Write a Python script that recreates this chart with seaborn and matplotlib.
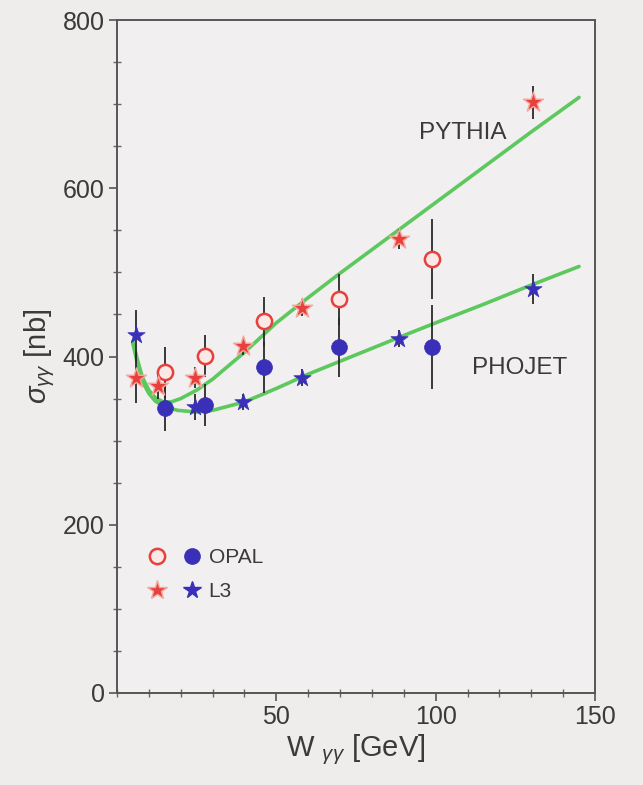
import matplotlib
matplotlib.use('Agg')
import matplotlib.pyplot as plt
import seaborn as sns
import pandas as pd
from matplotlib.lines import Line2D
from matplotlib.legend_handler import HandlerTuple
from matplotlib.ticker import MultipleLocator

# ---- data ----
opal_x = [15.1, 27.7, 46.2, 69.8, 98.7]
opal_red_y = [381, 401, 442, 468, 516]
opal_red_err = [30, 25, 29, 30, 48]
opal_blue_y = [339, 342, 387, 411, 411]
opal_blue_err = [28, 25, 30, 35, 50]

l3_red_x = [6.0, 12.9, 24.5, 39.6, 57.9, 88.4, 130.5]
l3_red_y = [375, 365, 375, 412, 458, 540, 702]
l3_red_err = [30, 15, 12, 10, 10, 12, 20]
l3_blue_x = [6.0, 24.5, 39.6, 57.9, 88.4, 130.5]
l3_blue_y = [425, 340, 346, 375, 421, 480]
l3_blue_err = [30, 15, 10, 10, 10, 18]

pythia_x = [5, 6.5, 8, 10, 12, 14.5, 17, 20, 25, 30, 40, 50, 60, 70, 80, 90, 100, 115, 130, 145]
pythia_y = [418, 395, 375, 360, 351, 346, 346, 350, 360, 373, 405, 440, 470, 499, 527, 555, 583, 625, 667, 708]
phojet_x = [5, 6.5, 8, 10, 12, 15, 19, 25, 30, 40, 50, 60, 75, 90, 100, 115, 130, 145]
phojet_y = [415, 390, 370, 356, 347, 340, 336, 334, 336, 346, 362, 379, 402, 425, 440, 462, 485, 507]

x_ticks = [50, 100, 150]
y_ticks = [0, 200, 400, 600, 800]

RED = '#e8403c'
BLUE = '#3a2fb8'
GREEN = '#5dc85d'
BG = '#eeedeb'
TXT = '#3a3a3a'

sns.set_theme(style='ticks')
plt.rcParams['font.family'] = ['Liberation Sans', 'DejaVu Sans']
plt.rcParams['mathtext.fontset'] = 'custom'
plt.rcParams['mathtext.rm'] = 'Liberation Sans'
plt.rcParams['mathtext.it'] = 'Liberation Sans:italic'

fig = plt.figure(figsize=(6.43, 7.85), dpi=100, facecolor=BG)
ax = fig.add_axes([117/643, 92/785, 478/643, 673/785])
ax.set_facecolor('#f1efef')

# curves
sns.lineplot(x=pythia_x, y=pythia_y, ax=ax, color=GREEN, lw=2.6, sort=False, zorder=2)
sns.lineplot(x=phojet_x, y=phojet_y, ax=ax, color=GREEN, lw=2.6, sort=False, zorder=2)

# error bars
ekw = dict(fmt='none', ecolor='#2a2a2a', elinewidth=1.3, capsize=0, zorder=3)
ax.errorbar(opal_x, opal_red_y, yerr=opal_red_err, **ekw)
ax.errorbar(opal_x, opal_blue_y, yerr=opal_blue_err, **ekw)
ax.errorbar(l3_red_x, l3_red_y, yerr=l3_red_err, **ekw)
ax.errorbar(l3_blue_x, l3_blue_y, yerr=l3_blue_err, **ekw)

# markers
sns.scatterplot(x=opal_x, y=opal_red_y, ax=ax, marker='o', s=120,
                facecolor='#fbe9e8', edgecolor=RED, linewidth=1.8, zorder=4)
sns.scatterplot(x=opal_x, y=opal_blue_y, ax=ax, marker='o', s=130,
                color=BLUE, edgecolor=BLUE, linewidth=0.5, zorder=4)
sns.scatterplot(x=l3_red_x, y=l3_red_y, ax=ax, marker='*', s=230,
                color=RED, edgecolor='#f5a8a0', linewidth=1.0, zorder=4)
sns.scatterplot(x=l3_blue_x, y=l3_blue_y, ax=ax, marker='*', s=170,
                color=BLUE, edgecolor=BLUE, linewidth=0.5, zorder=4)

# annotations
ax.text(108.5, 666, 'PYTHIA', ha='center', va='center', fontsize=17.5, color=TXT)
ax.text(126.5, 386, 'PHOJET', ha='center', va='center', fontsize=17.5, color=TXT)

# legend
h_or = Line2D([], [], ls='none', marker='o', ms=11, mfc='#fbe9e8', mec=RED, mew=1.8)
h_ob = Line2D([], [], ls='none', marker='o', ms=11, mfc=BLUE, mec=BLUE)
h_sr = Line2D([], [], ls='none', marker='*', ms=15, mfc=RED, mec='#f5a8a0', mew=1.0)
h_sb = Line2D([], [], ls='none', marker='*', ms=13, mfc=BLUE, mec=BLUE)
leg = ax.legend([(h_or, h_ob), (h_sr, h_sb)], ['OPAL', 'L3'],
                handler_map={tuple: HandlerTuple(ndivide=None, pad=0.9)},
                loc='lower left', bbox_to_anchor=(0.035, 0.115), frameon=False,
                fontsize=15, handlelength=2.5, labelspacing=0.7, handletextpad=0.4,
                borderpad=0.2, labelcolor=TXT)

# axes styling
ax.set_xlim(0, 150)
ax.set_ylim(0, 800)
ax.set_xticks(x_ticks)
ax.set_yticks(y_ticks)
ax.xaxis.set_minor_locator(MultipleLocator(10))
ax.yaxis.set_minor_locator(MultipleLocator(50))
ax.tick_params(which='major', direction='out', length=6, width=1.2, colors='#555',
               labelcolor=TXT, labelsize=18, pad=3)
ax.tick_params(which='minor', direction='inout', length=6, width=1.0, colors='#666')
for sp in ax.spines.values():
    sp.set_visible(True)
    sp.set_color('#555')
    sp.set_linewidth(1.4)

ax.set_xlabel(r'W $_{\gamma\gamma}$ [GeV]', fontsize=21, color=TXT, labelpad=2)
ax.set_ylabel(r'$\sigma_{\gamma\gamma}$ [nb]', fontsize=21, color=TXT, labelpad=4)

fig.savefig('out.png', dpi=100, facecolor=BG)
